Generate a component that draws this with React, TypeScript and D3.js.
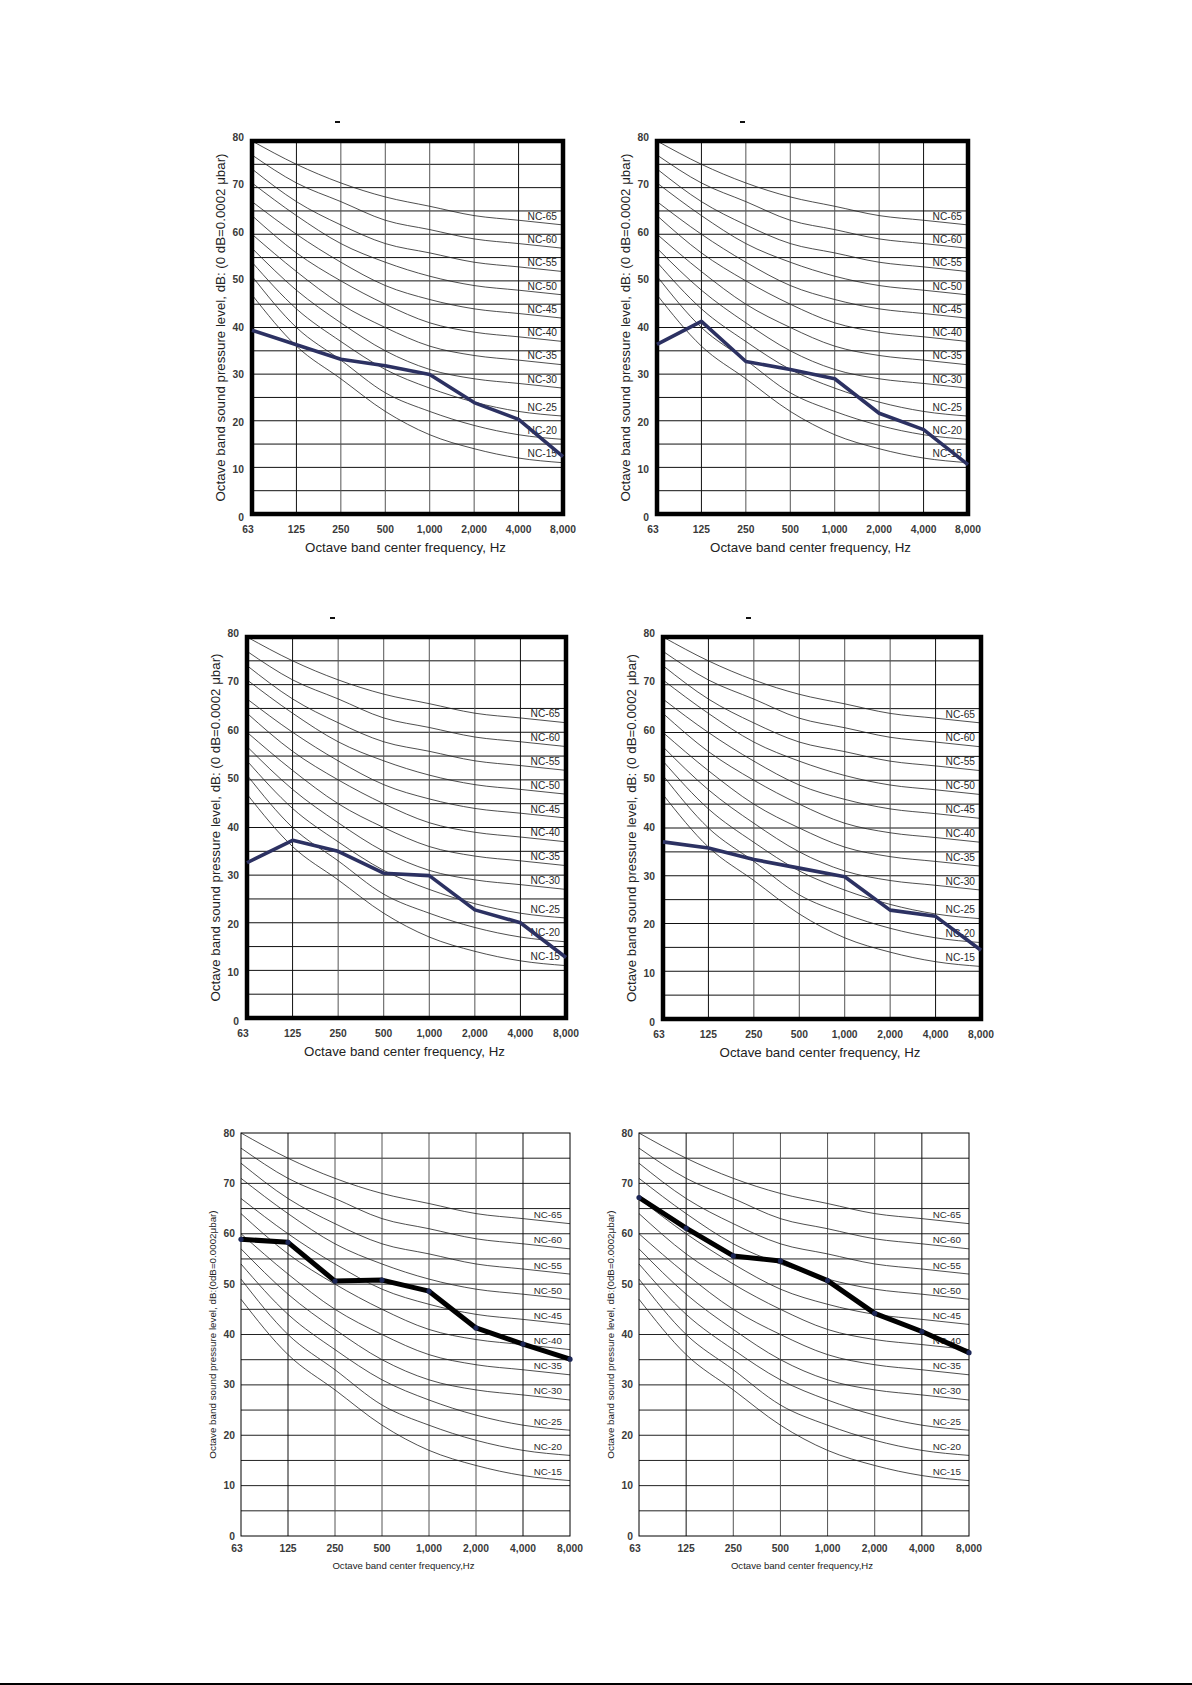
import React from "react";
import * as d3 from "d3";

// ---------- data ----------
const freqLabels = ["63", "125", "250", "500", "1,000", "2,000", "4,000", "8,000"];
const yTickValues = [0, 10, 20, 30, 40, 50, 60, 70, 80];
const yGridValues = [5, 10, 15, 20, 25, 30, 35, 40, 45, 50, 55, 60, 65, 70, 75];

const ncNames = ["NC-65", "NC-60", "NC-55", "NC-50", "NC-45", "NC-40", "NC-35", "NC-30", "NC-25", "NC-20", "NC-15"];
const nc65 = [80, 75, 71, 68, 66, 64, 63, 62];
const nc60 = [77, 71, 67, 63, 61, 59, 58, 57];
const nc55 = [74, 67, 62, 58, 56, 54, 53, 52];
const nc50 = [71, 64, 58, 54, 51, 49, 48, 47];
const nc45 = [67, 60, 54, 49, 46, 44, 43, 42];
const nc40 = [64, 56, 50, 45, 41, 39, 38, 37];
const nc35 = [60, 52, 45, 40, 36, 34, 33, 32];
const nc30 = [57, 48, 41, 35, 31, 29, 28, 27];
const nc25 = [54, 44, 37, 31, 27, 24, 22, 21];
const nc20 = [51, 40, 33, 26, 22, 19, 17, 16];
const nc15 = [47, 36, 29, 22, 17, 14, 12, 11];
const ncCurves = [nc65, nc60, nc55, nc50, nc45, nc40, nc35, nc30, nc25, nc20, nc15];

const measured1 = [39.4, 36.3, 33.2, 31.8, 29.9, 23.9, 20.3, 12.3];
const measured2 = [36.4, 41.3, 32.7, 31.0, 29.0, 21.6, 18.1, 10.6];
const measured3 = [32.6, 37.3, 35.0, 30.4, 29.9, 22.7, 20.0, 12.7];
const measured4 = [37.1, 35.8, 33.4, 31.6, 29.8, 22.8, 21.5, 14.4];
const measured5 = [58.9, 58.3, 50.6, 50.8, 48.6, 41.3, 38.1, 35.1];
const measured6 = [67.2, 61.1, 55.6, 54.6, 50.7, 44.2, 40.6, 36.4];

const yTitleA = "Octave band sound pressure level, dB: (0 dB=0.0002 μbar)";
const xTitleA = "Octave band center frequency, Hz";
const yTitleB = "Octave band sound pressure level, dB:(0dB=0.0002μbar)";
const xTitleB = "Octave band center frequency,Hz";

// ---------- layout ----------
type Cfg = {
  left: number; top: number; right: number; bottom: number;
  framed: boolean; series: number[];
};
const charts: Cfg[] = [
  { left: 252, top: 141, right: 563, bottom: 514, framed: true, series: measured1 },
  { left: 657, top: 141, right: 968, bottom: 514, framed: true, series: measured2 },
  { left: 247, top: 637, right: 566, bottom: 1018, framed: true, series: measured3 },
  { left: 663, top: 637, right: 981, bottom: 1019, framed: true, series: measured4 },
  { left: 241, top: 1133, right: 570, bottom: 1536, framed: false, series: measured5 },
  { left: 639, top: 1133, right: 969, bottom: 1536, framed: false, series: measured6 },
];

const FONT = "Arial, 'Liberation Sans', Helvetica, sans-serif";

function Chart({ c }: { c: Cfg }) {
  const x = d3.scalePoint<string>().domain(freqLabels).range([c.left, c.right]).padding(0);
  const y = d3.scaleLinear().domain([0, 80]).range([c.bottom, c.top]);
  const yLab = c.framed
    ? d3.scaleLinear().domain([0, 80]).range([c.bottom + 3, c.top - 4])
    : y;
  const xi = (i: number) => x(freqLabels[i]) as number;
  const curve = d3.line<number>().x((_, i) => xi(i)).y((v) => y(v)).curve(d3.curveMonotoneX);
  const poly = d3.line<number>().x((_, i) => xi(i)).y((v) => y(v));
  const cx = (c.left + c.right) / 2;
  const cy = (c.top + c.bottom) / 2;

  return (
    <g>
      {c.framed && (
        <rect x={c.left + 83} y={c.top - 20} width={5} height={2} fill="#111" />
      )}
      {/* horizontal grid */}
      {yGridValues.map((v) => (
        <line key={"h" + v} x1={c.left} x2={c.right} y1={y(v)} y2={y(v)}
          stroke={c.framed ? "#111" : "#222"} strokeWidth={1} />
      ))}
      {/* vertical grid */}
      {freqLabels.slice(1, 7).map((f, i) => (
        <line key={"v" + f} x1={x(f)} x2={x(f)} y1={c.top} y2={c.bottom}
          stroke={i === 0 || i === 5 ? "#111" : "#555"} strokeWidth={1} />
      ))}
      {/* NC curves */}
      {ncCurves.map((arr, k) => (
        <path key={"nc" + k} d={curve(arr) || ""} fill="none" stroke="#222" strokeWidth={0.8} />
      ))}
      {ncCurves.map((arr, k) => (
        <text key={"ncl" + k} x={c.right - (c.framed ? 6 : 8)}
          y={y((arr[6] + arr[7]) / 2) - 6.5} textAnchor="end" dominantBaseline="central"
          fontFamily={FONT} fontSize={c.framed ? 10.2 : 9.8} fill="#2a2a2a">
          {ncNames[k]}
        </text>
      ))}
      {/* frame */}
      <rect x={c.left} y={c.top} width={c.right - c.left} height={c.bottom - c.top}
        fill="none" stroke="#000" strokeWidth={c.framed ? 4.5 : 1} />
      {/* measured line */}
      <path d={poly(c.series) || ""} fill="none"
        stroke={c.framed ? "#2c3162" : "#000"} strokeWidth={c.framed ? 3.6 : 5}
        strokeLinejoin="round" />
      {!c.framed && c.series.map((v, i) => (
        <circle key={"p" + i} cx={xi(i)} cy={y(v)} r={2.6} fill="#1c2656" />
      ))}
      {/* y tick labels */}
      {yTickValues.map((v) => (
        <text key={"yt" + v} x={c.left - (c.framed ? 8 : 6)} y={yLab(v)}
          textAnchor="end" dominantBaseline="central" fontFamily={FONT}
          fontSize={10.3} fontWeight="bold" fill="#3a3a3a">
          {v}
        </text>
      ))}
      {/* x tick labels */}
      {freqLabels.map((f, i) => (
        <text key={"xt" + f} x={(x(f) as number) + (i === 0 ? -4 : 0)}
          y={c.bottom + (c.framed ? 15 : 12)} textAnchor="middle" dominantBaseline="central"
          fontFamily={FONT} fontSize={10.3} fontWeight="bold" fill="#3a3a3a">
          {f}
        </text>
      ))}
      {/* axis titles */}
      <text transform={`translate(${c.left - (c.framed ? 32 : 29)},${cy}) rotate(-90)`}
        textAnchor="middle" dominantBaseline="central" fontFamily={FONT}
        fontSize={c.framed ? 13.3 : 9.8} fill="#222">
        {c.framed ? yTitleA : yTitleB}
      </text>
      <text x={cx - 2} y={c.bottom + (c.framed ? 33 : 29)} textAnchor="middle"
        dominantBaseline="central" fontFamily={FONT} fontSize={c.framed ? 13.3 : 9.6} fill="#222">
        {c.framed ? xTitleA : xTitleB}
      </text>
    </g>
  );
}

export default function App() {
  return (
    <svg width={1192} height={1685} viewBox="0 0 1192 1685"
      style={{ position: "absolute", left: 0, top: 0, background: "#fff" }}>
      <rect x={0} y={0} width={1192} height={1685} fill="#fff" />
      {charts.map((c, i) => (
        <Chart key={i} c={c} />
      ))}
      <line x1={0} x2={1192} y1={1684} y2={1684} stroke="#000" strokeWidth={2} />
    </svg>
  );
}
